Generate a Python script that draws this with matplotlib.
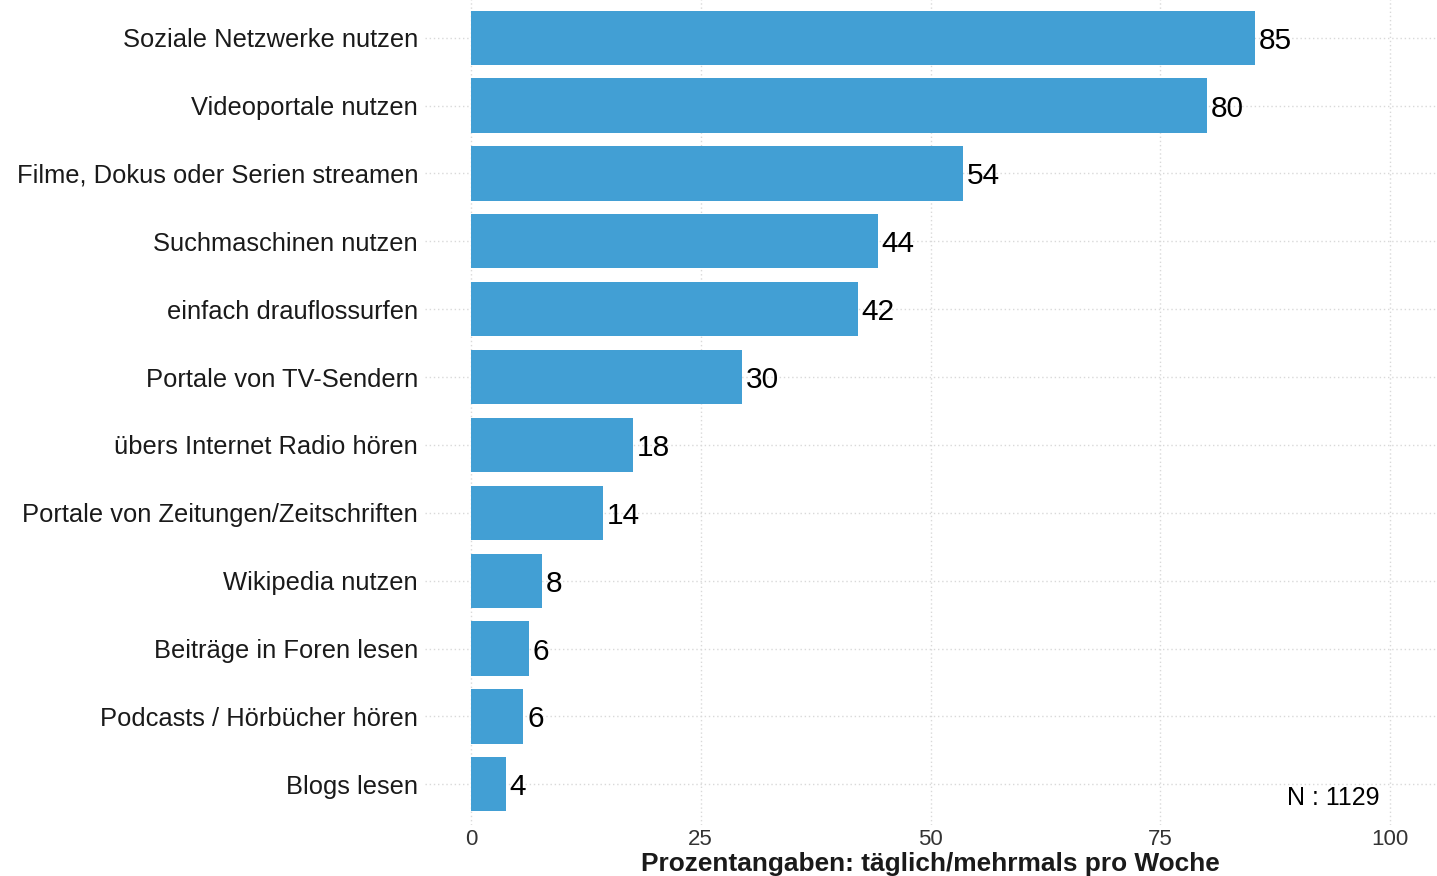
import numpy as np
import matplotlib.pyplot as plt

# Daten (von oben nach unten)
categories = ["Soziale Netzwerke nutzen", "Videoportale nutzen",
              "Filme, Dokus oder Serien streamen", "Suchmaschinen nutzen",
              "einfach drauflossurfen", "Portale von TV-Sendern",
              "übers Internet Radio hören", "Portale von Zeitungen/Zeitschriften",
              "Wikipedia nutzen", "Beiträge in Foren lesen",
              "Podcasts / Hörbücher hören", "Blogs lesen"]
values = [85.3, 80.1, 53.5, 44.3, 42.1, 29.5, 17.6, 14.4, 7.7, 6.3, 5.7, 3.8]
labels = ["85", "80", "54", "44", "42", "30", "18", "14", "8", "6", "6", "4"]
xticks = [0, 25, 50, 75, 100]
n_text = "N : 1129"

plt.rcParams['font.family'] = ['Liberation Sans', 'DejaVu Sans']

fig = plt.figure(figsize=(14.37, 8.76), dpi=100)
ax = fig.add_axes([425 / 1437, 1 - 825 / 876, (1436 - 425) / 1437, 828 / 876])

y = np.arange(len(categories))[::-1]
ax.barh(y, values, height=0.8, color="#429fd4", zorder=2)
for yi, v, lab in zip(y, values, labels):
    ax.text(v + 0.4, yi, lab, va="center_baseline", ha="left", fontsize=21.5,
            color="black", zorder=3)

ax.set_xlim(-5, 105)
ax.set_ylim(-0.6, len(categories) - 0.4)
ax.set_xticks(xticks)
ax.set_yticks(y)
ax.set_yticklabels(categories, fontsize=18.4, color="#1a1a1a")
ax.tick_params(axis="x", labelsize=16, colors="#333333", length=0, pad=3)
ax.tick_params(axis="y", length=0, pad=5)
ax.grid(True, color="#d9d9d9", linestyle=(0, (1, 2)), linewidth=1, zorder=0)
for s in ax.spines.values():
    s.set_visible(False)

ax.set_xlabel("Prozentangaben: täglich/mehrmals pro Woche", fontsize=18.9,
              fontweight="bold", color="#1a1a1a", labelpad=1)
ax.text(98.9, -0.2, n_text, ha="right", va="center", fontsize=18, color="black")

fig.savefig("out.png", dpi=100)
